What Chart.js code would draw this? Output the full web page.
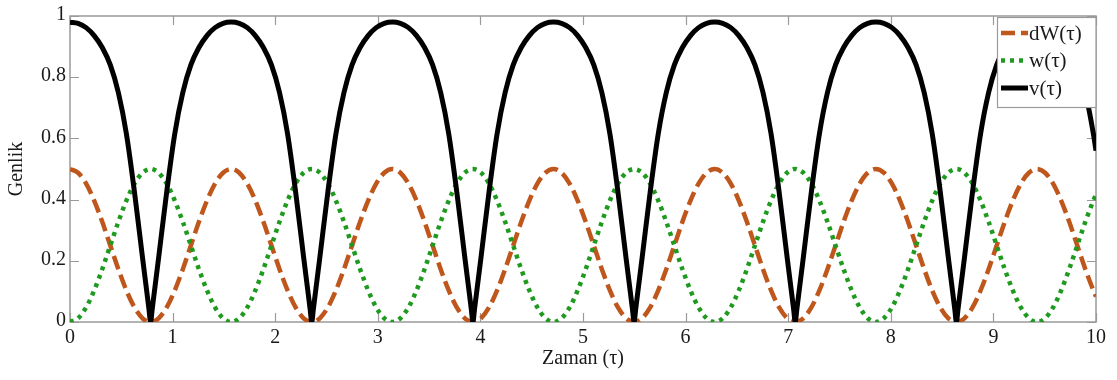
<!DOCTYPE html>
<html>
<head>
<meta charset="utf-8">
<script src="https://cdn.jsdelivr.net/npm/chart.js@4.4.0/dist/chart.umd.min.js"></script>
<style>
html,body{margin:0;padding:0;background:#fff;}
#wrap{width:1117px;height:380px;position:relative;}
</style>
</head>
<body>
<div id="wrap"><canvas id="c" width="1117" height="380"></canvas></div>
<script>
// time samples (tau)
const tau = [
0,0.0785,0.1571,0.2356,0.3142,0.3927,0.4712,0.5498,0.6283,0.7069,0.7697,
0.7854,0.8011,0.8639,0.9425,1.0210,1.0996,1.1781,1.2566,1.3352,1.4137,1.4923,
1.5708,1.6493,1.7279,1.8064,1.8850,1.9635,2.0420,2.1206,2.1991,2.2777,2.3405,
2.3562,2.3719,2.4347,2.5133,2.5918,2.6704,2.7489,2.8274,2.9060,2.9845,3.0631,
3.1416,3.2201,3.2987,3.3772,3.4558,3.5343,3.6128,3.6914,3.7699,3.8485,3.9113,
3.9270,3.9427,4.0055,4.0841,4.1626,4.2412,4.3197,4.3982,4.4768,4.5553,4.6339,
4.7124,4.7909,4.8695,4.9480,5.0265,5.1051,5.1836,5.2622,5.3407,5.4192,5.4821,
5.4978,5.5135,5.5763,5.6549,5.7334,5.8119,5.8905,5.9690,6.0476,6.1261,6.2046,
6.2832,6.3617,6.4403,6.5188,6.5973,6.6759,6.7544,6.8330,6.9115,6.9900,7.0529,
7.0686,7.0843,7.1471,7.2257,7.3042,7.3827,7.4613,7.5398,7.6184,7.6969,7.7754,
7.8540,7.9325,8.0111,8.0896,8.1681,8.2467,8.3252,8.4038,8.4823,8.5608,8.6237,
8.6394,8.6551,8.7179,8.7965,8.8750,8.9535,9.0321,9.1106,9.1892,9.2677,9.3462,
9.4248,9.5033,9.5819,9.6604,9.7389,9.8175,9.8960,9.9746,10
];
const dW = [
0.5,0.4878,0.4523,0.3969,0.3273,0.25,0.1727,0.1031,0.0477,0.0122,0.0005,
0,0.0005,0.0122,0.0477,0.1031,0.1727,0.25,0.3273,0.3969,0.4523,0.4878,
0.5,0.4878,0.4523,0.3969,0.3273,0.25,0.1727,0.1031,0.0477,0.0122,0.0005,
0,0.0005,0.0122,0.0477,0.1031,0.1727,0.25,0.3273,0.3969,0.4523,0.4878,
0.5,0.4878,0.4523,0.3969,0.3273,0.25,0.1727,0.1031,0.0477,0.0122,0.0005,
0,0.0005,0.0122,0.0477,0.1031,0.1727,0.25,0.3273,0.3969,0.4523,0.4878,
0.5,0.4878,0.4523,0.3969,0.3273,0.25,0.1727,0.1031,0.0477,0.0122,0.0005,
0,0.0005,0.0122,0.0477,0.1031,0.1727,0.25,0.3273,0.3969,0.4523,0.4878,
0.5,0.4878,0.4523,0.3969,0.3273,0.25,0.1727,0.1031,0.0477,0.0122,0.0005,
0,0.0005,0.0122,0.0477,0.1031,0.1727,0.25,0.3273,0.3969,0.4523,0.4878,
0.5,0.4878,0.4523,0.3969,0.3273,0.25,0.1727,0.1031,0.0477,0.0122,0.0005,
0,0.0005,0.0122,0.0477,0.1031,0.1727,0.25,0.3273,0.3969,0.4523,0.4878,
0.5,0.4878,0.4523,0.3969,0.3273,0.25,0.1727,0.1031,0.0833
];
const w = [
0,0.0122,0.0477,0.1031,0.1727,0.25,0.3273,0.3969,0.4523,0.4878,0.4995,
0.5,0.4995,0.4878,0.4523,0.3969,0.3273,0.25,0.1727,0.1031,0.0477,0.0122,
0,0.0122,0.0477,0.1031,0.1727,0.25,0.3273,0.3969,0.4523,0.4878,0.4995,
0.5,0.4995,0.4878,0.4523,0.3969,0.3273,0.25,0.1727,0.1031,0.0477,0.0122,
0,0.0122,0.0477,0.1031,0.1727,0.25,0.3273,0.3969,0.4523,0.4878,0.4995,
0.5,0.4995,0.4878,0.4523,0.3969,0.3273,0.25,0.1727,0.1031,0.0477,0.0122,
0,0.0122,0.0477,0.1031,0.1727,0.25,0.3273,0.3969,0.4523,0.4878,0.4995,
0.5,0.4995,0.4878,0.4523,0.3969,0.3273,0.25,0.1727,0.1031,0.0477,0.0122,
0,0.0122,0.0477,0.1031,0.1727,0.25,0.3273,0.3969,0.4523,0.4878,0.4995,
0.5,0.4995,0.4878,0.4523,0.3969,0.3273,0.25,0.1727,0.1031,0.0477,0.0122,
0,0.0122,0.0477,0.1031,0.1727,0.25,0.3273,0.3969,0.4523,0.4878,0.4995,
0.5,0.4995,0.4878,0.4523,0.3969,0.3273,0.25,0.1727,0.1031,0.0477,0.0122,
0,0.0122,0.0477,0.1031,0.1727,0.25,0.3273,0.3969,0.4167
];
const v = [
0.98,0.976,0.962,0.936,0.897,0.84,0.75,0.615,0.425,0.21,0.042,
0,0.042,0.21,0.425,0.615,0.75,0.84,0.897,0.936,0.962,0.976,
0.98,0.976,0.962,0.936,0.897,0.84,0.75,0.615,0.425,0.21,0.042,
0,0.042,0.21,0.425,0.615,0.75,0.84,0.897,0.936,0.962,0.976,
0.98,0.976,0.962,0.936,0.897,0.84,0.75,0.615,0.425,0.21,0.042,
0,0.042,0.21,0.425,0.615,0.75,0.84,0.897,0.936,0.962,0.976,
0.98,0.976,0.962,0.936,0.897,0.84,0.75,0.615,0.425,0.21,0.042,
0,0.042,0.21,0.425,0.615,0.75,0.84,0.897,0.936,0.962,0.976,
0.98,0.976,0.962,0.936,0.897,0.84,0.75,0.615,0.425,0.21,0.042,
0,0.042,0.21,0.425,0.615,0.75,0.84,0.897,0.936,0.962,0.976,
0.98,0.976,0.962,0.936,0.897,0.84,0.75,0.615,0.425,0.21,0.042,
0,0.042,0.21,0.425,0.615,0.75,0.84,0.897,0.936,0.962,0.976,
0.98,0.976,0.962,0.936,0.897,0.84,0.75,0.615,0.56
];
const xTicks = [0,1,2,3,4,5,6,7,8,9,10];
const yTicks = [0,0.2,0.4,0.6,0.8,1];
const seriesLabels = ['dW(\u03c4)','w(\u03c4)','v(\u03c4)'];
const xTitle = 'Zaman (\u03c4)';
const yTitle = 'Genlik';

const FONT = '"Liberation Serif", "Times New Roman", serif';
Chart.defaults.font.family = FONT;
Chart.defaults.color = '#1a1a1a';

const toPts = arr => arr.map((val, i) => ({x: tau[i], y: val}));

const framePlugin = {
  id: 'frame',
  beforeDatasetsDraw(chart) {
    const {ctx, chartArea: a, scales} = chart;
    const sx = scales.x, sy = scales.y;
    ctx.save();
    ctx.strokeStyle = '#9a9a9a';
    ctx.lineWidth = 1.5;
    ctx.strokeRect(a.left, a.top, a.right - a.left, a.bottom - a.top);
    ctx.lineWidth = 1.2;
    ctx.beginPath();
    xTicks.forEach(t => {
      const px = Math.round(sx.getPixelForValue(t)) + 0.5;
      ctx.moveTo(px, a.bottom); ctx.lineTo(px, a.bottom - 9);
      ctx.moveTo(px, a.top); ctx.lineTo(px, a.top + 9);
    });
    yTicks.forEach(t => {
      const py = Math.round(sy.getPixelForValue(t)) + 0.5;
      ctx.moveTo(a.left, py); ctx.lineTo(a.left + 9, py);
      ctx.moveTo(a.right, py); ctx.lineTo(a.right - 9, py);
    });
    ctx.stroke();
    ctx.restore();
  }
};

const legendPlugin = {
  id: 'boxLegend',
  afterDraw(chart) {
    const {ctx, chartArea: a} = chart;
    const bw = 99, bh = 90;
    const x0 = a.right - bw, y0 = a.top + 1;
    ctx.save();
    ctx.fillStyle = '#fff';
    ctx.fillRect(x0, y0, bw, bh);
    ctx.strokeStyle = '#9a9a9a';
    ctx.lineWidth = 1.2;
    ctx.strokeRect(x0 + 0.5, y0 + 0.5, bw - 0.5, bh);
    chart.data.datasets.forEach((ds, r) => {
      const yy = y0 + 16 + r * 27.5;
      ctx.beginPath();
      ctx.setLineDash(ds.borderDash || []);
      ctx.lineWidth = ds.borderWidth;
      ctx.strokeStyle = ds.borderColor;
      ctx.moveTo(x0 + 4, yy);
      ctx.lineTo(x0 + 31, yy);
      ctx.stroke();
      ctx.setLineDash([]);
      ctx.fillStyle = '#1a1a1a';
      ctx.font = '21px ' + FONT;
      ctx.textBaseline = 'middle';
      ctx.textAlign = 'left';
      ctx.fillText(ds.label, x0 + 32, yy + 1);
    });
    ctx.restore();
  }
};

new Chart(document.getElementById('c'), {
  type: 'line',
  data: {
    datasets: [
      {label: seriesLabels[0], data: toPts(dW), borderColor: '#bf561c', borderWidth: 4.5,
       borderDash: [14, 6], pointRadius: 0, cubicInterpolationMode: 'monotone', order: 2, fill: false},
      {label: seriesLabels[1], data: toPts(w), borderColor: '#1e9a1e', borderWidth: 4.5,
       borderDash: [4, 5], pointRadius: 0, cubicInterpolationMode: 'monotone', order: 1, fill: false},
      {label: seriesLabels[2], data: toPts(v), borderColor: '#000000', borderWidth: 5,
       pointRadius: 0, cubicInterpolationMode: 'monotone', order: 0, fill: false}
    ]
  },
  options: {
    responsive: false,
    animation: false,
    devicePixelRatio: 1,
    layout: {padding: {top: 7, right: 21, bottom: 0, left: 0}},
    plugins: {legend: {display: false}, tooltip: {enabled: false}},
    scales: {
      x: {
        type: 'linear', min: 0, max: 10,
        afterBuildTicks: s => { s.ticks = xTicks.map(t => ({value: t})); },
        afterFit: s => { s.height = 58; },
        grid: {display: false, drawTicks: false},
        border: {display: false},
        ticks: {font: {size: 20}, padding: 4, maxRotation: 0, callback: val => String(val)},
        title: {display: true, text: xTitle, font: {size: 20}, padding: {top: 0, bottom: 9}}
      },
      y: {
        type: 'linear', min: 0, max: 1,
        afterBuildTicks: s => { s.ticks = yTicks.map(t => ({value: t})); },
        afterFit: s => { s.width = 70; },
        grid: {display: false, drawTicks: false},
        border: {display: false},
        ticks: {font: {size: 20}, padding: 4, labelOffset: -1, callback: val => String(val)},
        title: {display: true, text: yTitle, font: {size: 20}, padding: {top: 5, bottom: 0}}
      }
    }
  },
  plugins: [framePlugin, legendPlugin]
});
</script>
</body>
</html>
